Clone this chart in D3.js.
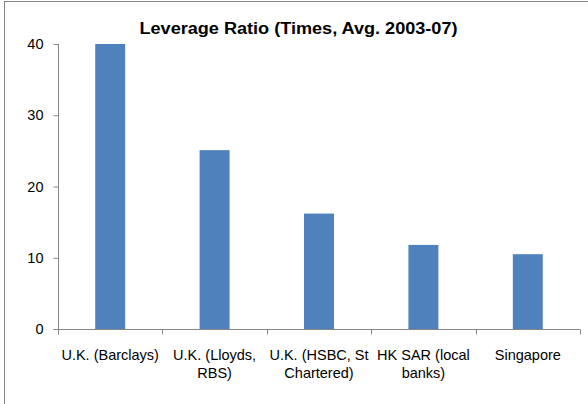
<!DOCTYPE html>
<html><head><meta charset="utf-8">
<script src="https://cdn.jsdelivr.net/npm/d3@7"></script>
<style>body{margin:0;background:#fff}svg{display:block}text{font-family:"Liberation Sans",Arial,sans-serif;fill:#000}</style>
</head><body>
<script>
const categories = ["U.K. (Barclays)", "U.K. (Lloyds, RBS)", "U.K. (HSBC, St Chartered)", "HK SAR (local banks)", "Singapore"];
const values = [40, 25.1, 16.2, 11.8, 10.5];
const yTicks = [0, 10, 20, 30, 40];
const title = "Leverage Ratio (Times, Avg. 2003-07)";

const W = 588, H = 404;
const svg = d3.select("body").append("svg").attr("width", W).attr("height", H);
svg.append("rect").attr("x", 4.5).attr("y", 1.5).attr("width", 600).attr("height", 420)
  .attr("fill", "#fff").attr("stroke", "#868686").attr("stroke-width", 1);

const x0 = 58, x1 = 580, yTop = 44, yBot = 329;
const x = d3.scaleBand().domain(categories).range([x0, x1]).paddingInner(0.713).paddingOuter(0.3565);
const y = d3.scaleLinear().domain([0, 40]).range([yBot, yTop]);

svg.append("text").attr("x", 298.5).attr("y", 34).attr("text-anchor", "middle")
  .style("font-weight", "bold").style("font-size", "16px")
  .attr("textLength", 318).attr("lengthAdjust", "spacingAndGlyphs").text(title);

// bars
svg.selectAll("rect.bar").data(values).join("rect").attr("class", "bar")
  .attr("x", (d, i) => x(categories[i])).attr("width", x.bandwidth())
  .attr("y", d => y(d)).attr("height", d => y(0) - y(d)).attr("fill", "#4F81BD");

// y axis
const yAxis = d3.axisLeft(y).tickValues(yTicks).tickSize(5).tickPadding(10);
const gy = svg.append("g").attr("transform", `translate(${x0 + 0.5},0)`).call(yAxis);
gy.select(".domain").attr("stroke", "#868686").attr("d", `M-5,${yBot + 0.5}H0V${yTop}`);
gy.selectAll(".tick line").attr("stroke", "#868686");
gy.selectAll(".tick text").style("font-size", "14.5px").style("font-family", "Liberation Sans, Arial, sans-serif").attr("fill", "#000");

// x axis
const bx = d3.scaleLinear().domain([0, categories.length]).range([x0, x1]);
const gx = svg.append("g").attr("transform", `translate(0,${yBot + 0.5})`);
gx.append("line").attr("x1", x0).attr("x2", x1).attr("stroke", "#868686");
gx.selectAll("line.tk").data(d3.range(categories.length + 1)).join("line").attr("class", "tk")
  .attr("x1", d => Math.round(bx(d)) + 0.5).attr("x2", d => Math.round(bx(d)) + 0.5)
  .attr("y1", 0).attr("y2", 5).attr("stroke", "#868686");

const fs = "14.5px";
const maxW = 112;
categories.forEach((c, i) => {
  const cx = x(c) + x.bandwidth() / 2;
  const t = gx.append("text").attr("text-anchor", "middle").style("font-size", fs);
  const words = c.split(" ");
  let lines = [], cur = [];
  const probe = svg.append("text").style("font-size", fs);
  words.forEach(w => {
    const test = cur.concat(w).join(" ");
    probe.text(test);
    if (probe.node().getComputedTextLength() > maxW && cur.length) { lines.push(cur.join(" ")); cur = [w]; }
    else cur.push(w);
  });
  lines.push(cur.join(" "));
  probe.remove();
  lines.forEach((l, j) => t.append("tspan").attr("x", cx).attr("y", 30 + j * 18).text(l));
});
</script>
</body></html>
